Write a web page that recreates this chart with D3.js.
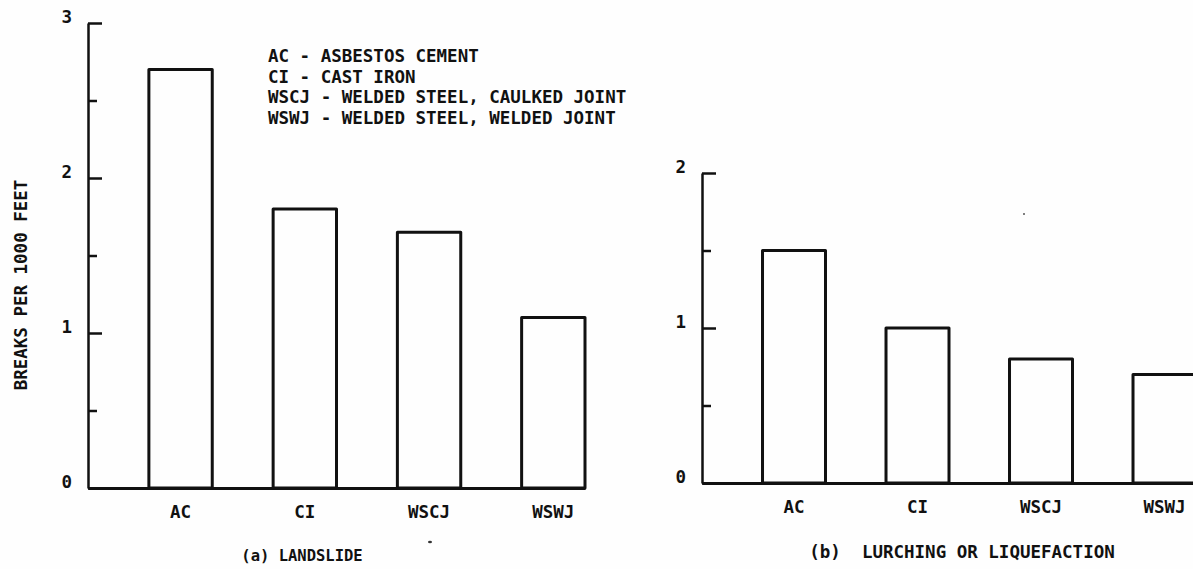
<!DOCTYPE html>
<html>
<head>
<meta charset="utf-8">
<script src="https://cdn.jsdelivr.net/npm/d3@7"></script>
<style>
  html, body { margin: 0; padding: 0; background: #fefefe; }
  svg { display: block; }
  text { font-family: "DejaVu Sans Mono", monospace; font-weight: bold; fill: #111; }
</style>
</head>
<body>
<svg id="chart" width="1193" height="569"></svg>
<script>
// Pipe types (shared by both panels)
const categories = ["AC", "CI", "WSCJ", "WSWJ"];

// Breaks per 1000 feet, (a) landslide
const landslideValues = [2.7, 1.8, 1.65, 1.1];
// Breaks per 1000 feet, (b) lurching or liquefaction
const lurchingValues = [1.5, 1.0, 0.8, 0.7];

// Axis ticks
const landslideMajorTicks = [0, 1, 2, 3];
const landslideMinorTicks = [0.5, 1.5, 2.5];
const lurchingMajorTicks = [0, 1, 2];
const lurchingMinorTicks = [0.5, 1.5];

const legendLines = [
  "AC - ASBESTOS CEMENT",
  "CI - CAST IRON",
  "WSCJ - WELDED STEEL, CAULKED JOINT",
  "WSWJ - WELDED STEEL, WELDED JOINT"
];
const yTitle = "BREAKS PER 1000 FEET";
const captionA = "(a) LANDSLIDE";
const captionB = "(b)  LURCHING OR LIQUEFACTION";

const ink = "#111";
const svg = d3.select("#chart");

function panel(opts) {
  const g = svg.append("g");
  const x = d3.scaleBand()
    .domain(categories)
    .range([opts.x0, opts.x1])
    .paddingInner(0.49)
    .paddingOuter(0.245)
    .align(1);
  const y = d3.scaleLinear()
    .domain([0, opts.yMax])
    .range([opts.base, opts.top]);

  // bars (outlined)
  g.selectAll("rect.bar")
    .data(categories.map((c, i) => ({ c, v: opts.values[i] })))
    .join("rect")
    .attr("class", "bar")
    .attr("x", d => x(d.c))
    .attr("width", x.bandwidth())
    .attr("y", d => y(d.v))
    .attr("height", d => y(0) - y(d.v))
    .attr("fill", "none")
    .attr("stroke", ink)
    .attr("stroke-width", 3)
    .attr("stroke-linejoin", "round");

  // minor ticks
  const minor = g.append("g")
    .attr("transform", `translate(${opts.x0},0)`)
    .call(d3.axisLeft(y).tickValues(opts.minor).tickSize(-9).tickSizeOuter(0).tickFormat(""));
  minor.select(".domain").remove();
  minor.selectAll("line").attr("stroke", ink).attr("stroke-width", 2.5);

  // major ticks with labels
  const major = g.append("g")
    .attr("transform", `translate(${opts.x0},0)`)
    .call(d3.axisLeft(y).tickValues(opts.major).tickSize(-14).tickSizeOuter(0)
      .tickPadding(16).tickFormat(d3.format("d")));
  major.select(".domain").attr("stroke", ink).attr("stroke-width", 2.5);
  major.selectAll("line").attr("stroke", ink).attr("stroke-width", 2.5);
  major.selectAll("text")
    .attr("dy", "-0.05em")
    .attr("font-size", 17.5)
    .attr("font-family", null)
    .attr("fill", ink);

  // baseline with category labels
  const xa = g.append("g")
    .attr("transform", `translate(0,${opts.base})`)
    .call(d3.axisBottom(x).tickSize(0).tickSizeOuter(0).tickPadding(18));
  xa.select(".domain").attr("stroke", ink).attr("stroke-width", 3);
  xa.selectAll("text")
    .attr("font-size", 17.5)
    .attr("font-family", null)
    .attr("fill", ink);

  // caption
  g.append("text")
    .attr("x", opts.capX)
    .attr("y", opts.capY)
    .attr("text-anchor", "middle")
    .attr("font-size", opts.capSize)
    .attr("xml:space", "preserve")
    .style("white-space", "pre")
    .text(opts.caption);
  return { x, y };
}

panel({
  x0: 88, x1: 585, base: 488, top: 23, yMax: 3,
  values: landslideValues, major: landslideMajorTicks, minor: landslideMinorTicks,
  caption: captionA, capX: 302, capY: 561, capSize: 15.5
});

panel({
  x0: 702, x1: 1196, base: 483, top: 173, yMax: 2,
  values: lurchingValues, major: lurchingMajorTicks, minor: lurchingMinorTicks,
  caption: captionB, capX: 962, capY: 558, capSize: 17.5
});

// y-axis title
svg.append("text")
  .attr("transform", "translate(27,285) rotate(-90)")
  .attr("text-anchor", "middle")
  .attr("font-size", 17.5)
  .text(yTitle);

// legend of abbreviations
svg.append("g")
  .selectAll("text")
  .data(legendLines)
  .join("text")
  .attr("x", 268)
  .attr("y", (d, i) => 62 + i * 20.5)
  .attr("font-size", 17.5)
  .text(d => d);

// small ink specks on the sheet
svg.append("ellipse").attr("cx", 430).attr("cy", 542).attr("rx", 2).attr("ry", 1.2).attr("fill", "#333");
svg.append("circle").attr("cx", 1024).attr("cy", 214).attr("r", 1).attr("fill", "#555");
</script>
</body>
</html>
